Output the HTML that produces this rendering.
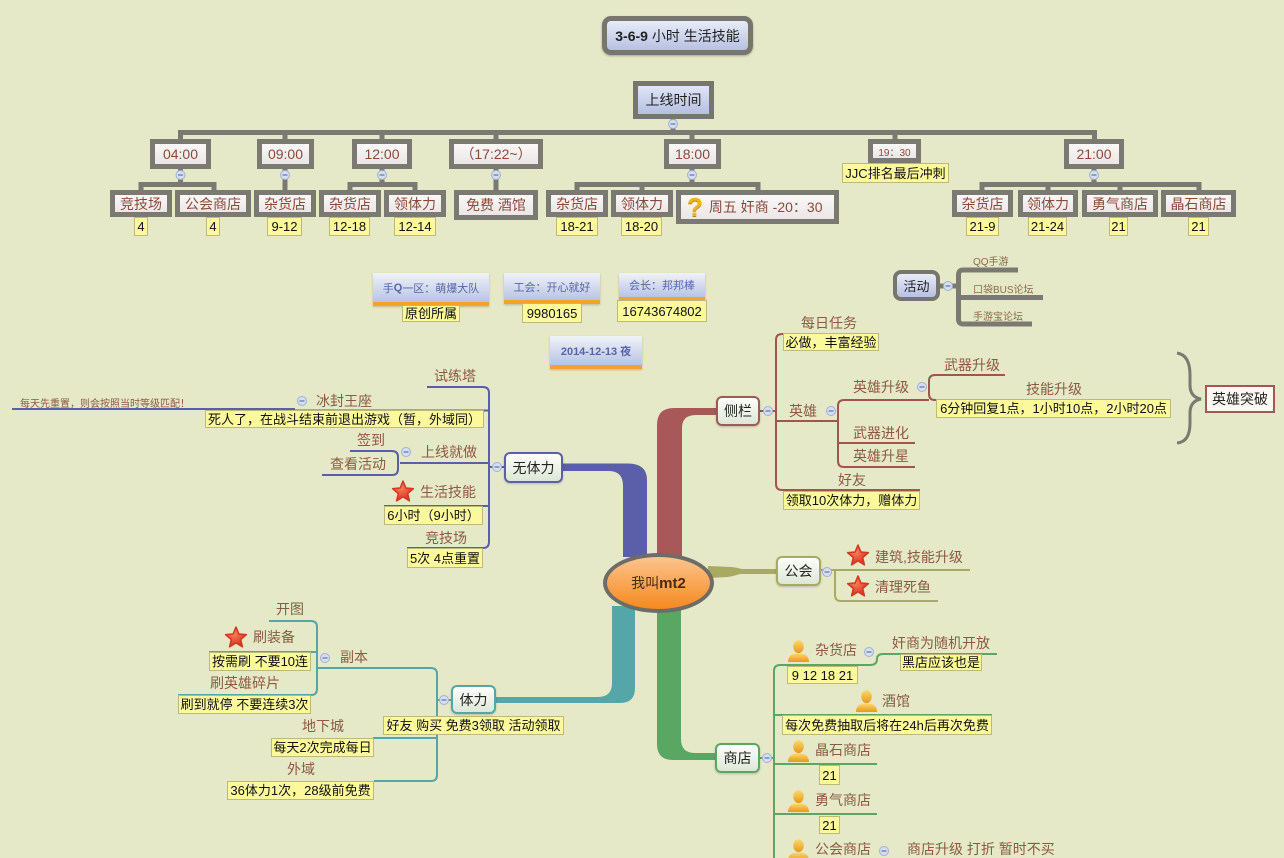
<!DOCTYPE html>
<html><head><meta charset="utf-8">
<style>
*{margin:0;padding:0;box-sizing:border-box}
body{width:1284px;height:858px;overflow:hidden;background:#e6e9c7;font-family:"Liberation Sans","Noto Sans CJK SC",sans-serif;position:relative}
.a{position:absolute;white-space:nowrap}
.t{position:absolute;white-space:nowrap;font-size:14px;line-height:16px;color:#8b5a42}
.y{position:absolute;white-space:nowrap;font-size:13px;line-height:1;color:#111;background:#fbf99b;border:1px solid #bdb97c;display:flex;align-items:center;justify-content:center}
.g{position:absolute;white-space:nowrap;border:5px solid #7a7a72;background:linear-gradient(#fbf8f8,#ece6e6);display:flex;align-items:center;justify-content:center;font-size:14px;color:#8a4a3a}
.b{position:absolute;white-space:nowrap;background:linear-gradient(#f1f3f9,#b8c3e5);border-bottom:4px solid #f0a52a;display:flex;align-items:center;justify-content:center;font-size:11px;color:#5565a8;box-shadow:0 1px 2px rgba(80,80,60,.3)}
.m{position:absolute;white-space:nowrap;border:2px solid;border-radius:6px;background:linear-gradient(#fdfefb,#dde7d6);display:flex;align-items:center;justify-content:center;font-size:14px;color:#222;box-shadow:0 1px 2px rgba(0,0,0,.2)}
</style></head><body>

<svg class="a" style="left:0;top:0" width="1284" height="858">
<defs>
<radialGradient id="sg" cx="0.4" cy="0.35" r="0.7"><stop offset="0" stop-color="#f8805a"/><stop offset="1" stop-color="#d8281a"/></radialGradient>
<linearGradient id="pg" x1="0" y1="0" x2="0" y2="1"><stop offset="0" stop-color="#fdd870"/><stop offset="1" stop-color="#e89818"/></linearGradient>
<symbol id="star" viewBox="-1.1 -1.1 2.2 2.2"><polygon points="0,-1 0.2645,-0.364 0.951,-0.309 0.428,0.139 0.588,0.809 0,0.45 -0.588,0.809 -0.428,0.139 -0.951,-0.309 -0.2645,-0.364" fill="url(#sg)" stroke="#d03a22" stroke-width="0.14" stroke-linejoin="round"/></symbol>
<symbol id="per" viewBox="0 0 24 24"><ellipse cx="12" cy="8" rx="5.5" ry="6.8" fill="url(#pg)"/><path d="M1,24 Q1,15 12,15 Q23,15 23,24 Z" fill="url(#pg)"/></symbol>
</defs>
<!-- top gray structure -->
<g stroke="#7a7a72" stroke-width="5" fill="none">
<path d="M673,118V133"/>
<path d="M178,132.5H1097"/>
<path d="M180.5,131V140M285,131V140M382,131V140M496,131V140M692,131V140M895,131V140M1094.5,131V140"/>
<path d="M180.5,168V185M141,191V184.5H214V191"/>
<path d="M285,168V191"/>
<path d="M382,168V185M350,191V184.5H415V191"/>
<path d="M496,168V191"/>
<path d="M692,168V185M577,191V184.5H758V191M642,184V191"/>
<path d="M1094,168V185M982,191V184.5H1199V191M1048,184V191M1120,184V191"/>
<path d="M940,286H958M1018,270H963Q958.5,270 958.5,275V319Q958.5,324 963,324H1032M958,297.5H1043"/>
</g>
<!-- thick branches -->
<path d="M563,463.5 L628,463.5 Q647,463.5 647,480 L647,557 L623,557 L623,486 Q623,471 609,471 L563,471 Z" fill="#5b5ea8"/>
<path d="M716,408 L674,408 Q657,408 657,425 L657,557 L682,557 L682,428 Q682,415 696,415 L716,415 Z" fill="#a85858"/>
<path d="M708,566 L732,567 Q738,568 742,569 L777,569 L777,574 L740,574 Q734,576 728,577 L708,578 Z" fill="#a9aa62"/>
<path d="M635,606 L635,688 Q635,703 620,703 L496,703 L496,697 L598,697 Q612,697 612,683 L612,606 Z" fill="#55a6a8"/>
<path d="M657,610 L657,744 Q657,760 673,760 L715,760 L715,753 L695,753 Q681,753 681,739 L681,610 Z" fill="#5aa764"/>
<!-- purple thin -->
<g stroke="#5b5ea8" stroke-width="2" fill="none">
<path d="M504,467H489"/>
<path d="M427,387H483Q489,387 489,393V542Q489,548 483,548H407"/>
<path d="M205,410.5H489"/>
<path d="M400,463H489"/>
<path d="M384,506H489"/>
<path d="M350,451H392Q398,451 398,457V469Q398,475 392,475H322"/>
<path d="M12,409H295"/>
</g>
<!-- red thin -->
<g stroke="#a0564f" stroke-width="2" fill="none">
<path d="M760,411H776"/>
<path d="M879,334H782Q776,334 776,340V484Q776,490 782,490H920"/>
<path d="M776,421H838"/>
<path d="M929,400H844Q838,400 838,406V461Q838,467 844,467H915"/>
<path d="M838,443H915"/>
<path d="M1005,375H935Q929,375 929,381V394Q929,400 935,400H1171"/>
</g>
<!-- brace -->
<path d="M1177,353 Q1190,355 1190,375 V385 Q1190,397 1201,399 Q1190,401 1190,413 V423 Q1190,442 1177,443" stroke="#7a7a72" stroke-width="3" fill="none"/>
<!-- olive thin -->
<g stroke="#a9aa62" stroke-width="2" fill="none">
<path d="M821,570H970"/>
<path d="M835,570V595Q835,601 841,601H938"/>
</g>
<!-- teal thin -->
<g stroke="#55a6a8" stroke-width="2" fill="none">
<path d="M451,700H437"/>
<path d="M317,668H431Q437,668 437,674V775Q437,781 431,781H374"/>
<path d="M373,738H437"/>
<path d="M269,621H311Q317,621 317,627V689Q317,695 311,695H178"/>
<path d="M209,652H317"/>
</g>
<!-- green thin -->
<g stroke="#5aa764" stroke-width="2" fill="none">
<path d="M760,758H774"/>
<path d="M871,665H780Q774,665 774,671V858"/>
<path d="M870,665Q877,665 877,659Q877,654 883,654H997"/>
<path d="M774,715H992"/>
<path d="M774,764H877"/>
<path d="M774,814H877"/>
</g>
</svg>

<!-- title -->
<div class="a" style="left:602px;top:16px;width:151px;height:39px;border:5px solid #76766f;border-radius:9px;background:linear-gradient(#e8ecf8,#b7c1e2);display:flex;align-items:center;justify-content:center;font-size:14px;color:#222;box-shadow:0 1px 2px rgba(0,0,0,.3)"><b>3-6-9</b>&nbsp;小时 生活技能</div>
<div class="a" style="left:633px;top:81px;width:81px;height:38px;border:5px solid #76766f;background:linear-gradient(#e0e6f6,#b5bfe0);display:flex;align-items:center;justify-content:center;font-size:14px;color:#222">上线时间</div>

<!-- time nodes -->
<div class="g" style="left:150px;top:139px;width:61px;height:30px">04:00</div>
<div class="g" style="left:257px;top:139px;width:57px;height:30px">09:00</div>
<div class="g" style="left:352px;top:139px;width:60px;height:30px">12:00</div>
<div class="g" style="left:449px;top:139px;width:94px;height:30px">（17:22~）</div>
<div class="g" style="left:664px;top:139px;width:57px;height:30px">18:00</div>
<div class="g" style="left:868px;top:139px;width:53px;height:24px;font-size:10px">19：30</div>
<div class="g" style="left:1064px;top:139px;width:60px;height:30px">21:00</div>

<!-- children -->
<div class="g" style="left:110px;top:190px;width:62px;height:27px">竞技场</div>
<div class="g" style="left:175px;top:190px;width:76px;height:27px">公会商店</div>
<div class="g" style="left:254px;top:190px;width:62px;height:27px">杂货店</div>
<div class="g" style="left:319px;top:190px;width:62px;height:27px">杂货店</div>
<div class="g" style="left:384px;top:190px;width:62px;height:27px">领体力</div>
<div class="g" style="left:454px;top:190px;width:84px;height:30px">免费 酒馆</div>
<div class="g" style="left:546px;top:190px;width:62px;height:27px">杂货店</div>
<div class="g" style="left:611px;top:190px;width:62px;height:27px">领体力</div>
<div class="g" style="left:676px;top:190px;width:163px;height:34px;justify-content:flex-start;padding-left:6px"><span style="font-size:26px;font-weight:bold;color:#efb51e;line-height:1;margin-right:6px;text-shadow:0 1px 0 #b88010">?</span>周五 奸商 -20：30</div>
<div class="g" style="left:952px;top:190px;width:61px;height:27px">杂货店</div>
<div class="g" style="left:1018px;top:190px;width:60px;height:27px">领体力</div>
<div class="g" style="left:1082px;top:190px;width:76px;height:27px">勇气商店</div>
<div class="g" style="left:1161px;top:190px;width:75px;height:27px">晶石商店</div>

<!-- top yellow labels -->
<div class="y" style="left:134px;top:217px;width:14px;height:19px">4</div>
<div class="y" style="left:206px;top:217px;width:14px;height:19px">4</div>
<div class="y" style="left:267px;top:217px;width:35px;height:19px">9-12</div>
<div class="y" style="left:329px;top:217px;width:41px;height:19px">12-18</div>
<div class="y" style="left:394px;top:217px;width:42px;height:19px">12-14</div>
<div class="y" style="left:556px;top:217px;width:42px;height:19px">18-21</div>
<div class="y" style="left:621px;top:217px;width:41px;height:19px">18-20</div>
<div class="y" style="left:966px;top:217px;width:33px;height:19px">21-9</div>
<div class="y" style="left:1028px;top:217px;width:39px;height:19px">21-24</div>
<div class="y" style="left:1109px;top:217px;width:19px;height:19px">21</div>
<div class="y" style="left:1188px;top:217px;width:21px;height:19px">21</div>
<div class="y" style="left:842px;top:163px;width:107px;height:20px">JJC排名最后冲刺</div>

<!-- info boxes -->
<div class="b" style="left:373px;top:273px;width:116px;height:33px">手<b>Q</b>一区：萌爆大队</div>
<div class="y" style="left:402px;top:305px;width:58px;height:17px">原创所属</div>
<div class="b" style="left:504px;top:273px;width:96px;height:31px">工会：开心就好</div>
<div class="y" style="left:522px;top:303px;width:60px;height:20px">9980165</div>
<div class="b" style="left:619px;top:273px;width:86px;height:28px">会长：邦邦棒</div>
<div class="y" style="left:617px;top:300px;width:90px;height:22px">16743674802</div>
<div class="b" style="left:550px;top:336px;width:92px;height:33px;font-weight:bold">2014-12-13 夜</div>

<!-- activity -->
<div class="a" style="left:893px;top:270px;width:47px;height:31px;border:4px solid #76766f;border-radius:8px;background:linear-gradient(#e8ecf8,#b7c1e2);display:flex;align-items:center;justify-content:center;font-size:13px;color:#222">活动</div>
<div class="a" style="left:973px;top:253px;font-size:10px;color:#8b6a4a">QQ手游</div>
<div class="a" style="left:973px;top:281px;font-size:10px;color:#8b6a4a">口袋BUS论坛</div>
<div class="a" style="left:973px;top:308px;font-size:10px;color:#8b6a4a">手游宝论坛</div>

<!-- main nodes -->
<div class="m" style="left:504px;top:452px;width:59px;height:31px;border-color:#5b5ea8">无体力</div>
<div class="m" style="left:716px;top:396px;width:44px;height:30px;border-color:#a05a55">侧栏</div>
<div class="m" style="left:776px;top:556px;width:45px;height:30px;border-color:#a9aa62">公会</div>
<div class="m" style="left:451px;top:685px;width:45px;height:29px;border-color:#55a6a8">体力</div>
<div class="m" style="left:715px;top:743px;width:45px;height:30px;border-color:#5aa764">商店</div>
<div class="a" style="left:1205px;top:385px;width:70px;height:28px;border:2px solid #a05a55;background:#fbf9f3;display:flex;align-items:center;justify-content:center;font-size:14px;color:#222">英雄突破</div>

<!-- center -->
<div class="a" style="left:603px;top:553px;width:111px;height:60px;border-radius:50%;border:4px solid #6e6c66;background:linear-gradient(#fcc48e,#f6891e);display:flex;align-items:center;justify-content:center;font-size:14px;color:#4a2a10">我叫<b style="font-size:15px">mt2</b></div>

<!-- left topics -->
<div class="t" style="left:434px;top:368px">试练塔</div>
<div class="t" style="left:316px;top:393px">冰封王座</div>
<div class="a" style="left:20px;top:395px;font-size:10px;color:#8b5a42">每天先重置，则会按照当时等级匹配！</div>
<div class="t" style="left:357px;top:432px">签到</div>
<div class="t" style="left:421px;top:444px">上线就做</div>
<div class="t" style="left:330px;top:456px">查看活动</div>
<div class="t" style="left:420px;top:484px">生活技能</div>
<div class="t" style="left:425px;top:530px">竞技场</div>
<div class="y" style="left:205px;top:410px;width:279px;height:18px">死人了，在战斗结束前退出游戏（暂，外域同）</div>
<div class="y" style="left:384px;top:506px;width:99px;height:19px">6小时（9小时）</div>
<div class="y" style="left:407px;top:548px;width:76px;height:20px">5次 4点重置</div>

<!-- right topics -->
<div class="t" style="left:801px;top:315px">每日任务</div>
<div class="t" style="left:789px;top:403px">英雄</div>
<div class="t" style="left:853px;top:379px">英雄升级</div>
<div class="t" style="left:944px;top:357px">武器升级</div>
<div class="t" style="left:1026px;top:381px">技能升级</div>
<div class="t" style="left:853px;top:425px">武器进化</div>
<div class="t" style="left:853px;top:448px">英雄升星</div>
<div class="t" style="left:838px;top:472px">好友</div>
<div class="y" style="left:783px;top:333px;width:96px;height:18px">必做，丰富经验</div>
<div class="y" style="left:936px;top:399px;width:235px;height:19px">6分钟回复1点，1小时10点，2小时20点</div>
<div class="y" style="left:783px;top:491px;width:137px;height:19px">领取10次体力，赠体力</div>

<!-- guild -->
<div class="t" style="left:875px;top:549px">建筑,技能升级</div>
<div class="t" style="left:875px;top:579px">清理死鱼</div>

<!-- stamina -->
<div class="t" style="left:276px;top:601px">开图</div>
<div class="t" style="left:253px;top:629px">刷装备</div>
<div class="t" style="left:340px;top:649px">副本</div>
<div class="t" style="left:210px;top:675px">刷英雄碎片</div>
<div class="t" style="left:302px;top:718px">地下城</div>
<div class="t" style="left:287px;top:761px">外域</div>
<div class="y" style="left:209px;top:652px;width:102px;height:19px">按需刷 不要10连</div>
<div class="y" style="left:178px;top:695px;width:133px;height:19px">刷到就停 不要连续3次</div>
<div class="y" style="left:383px;top:716px;width:181px;height:19px">好友 购买 免费3领取 活动领取</div>
<div class="y" style="left:271px;top:738px;width:103px;height:19px">每天2次完成每日</div>
<div class="y" style="left:227px;top:781px;width:147px;height:19px">36体力1次，28级前免费</div>

<!-- shop -->
<div class="t" style="left:815px;top:642px">杂货店</div>
<div class="t" style="left:892px;top:635px">奸商为随机开放</div>
<div class="t" style="left:882px;top:693px">酒馆</div>
<div class="t" style="left:815px;top:742px">晶石商店</div>
<div class="t" style="left:815px;top:792px">勇气商店</div>
<div class="t" style="left:815px;top:841px">公会商店</div>
<div class="t" style="left:907px;top:841px">商店升级 打折 暂时不买</div>
<div class="y" style="left:787px;top:666px;width:71px;height:18px">9 12 18 21</div>
<div class="y" style="left:900px;top:654px;width:82px;height:17px">黑店应该也是</div>
<div class="y" style="left:782px;top:715px;width:210px;height:20px">每次免费抽取后将在24h后再次免费</div>
<div class="y" style="left:819px;top:765px;width:21px;height:20px">21</div>
<div class="y" style="left:819px;top:816px;width:21px;height:18px">21</div>

<!-- icons & collapse circles overlay -->
<svg class="a" style="left:0;top:0" width="1284" height="858">
<use href="#star" x="391" y="480" width="24" height="24"/>
<use href="#star" x="224" y="626" width="24" height="24"/>
<use href="#star" x="846" y="544" width="24" height="24"/>
<use href="#star" x="846" y="575" width="24" height="24"/>
<use href="#per" x="787" y="639" width="23" height="23"/>
<use href="#per" x="855" y="689" width="23" height="23"/>
<use href="#per" x="787" y="739" width="23" height="23"/>
<use href="#per" x="787" y="789" width="23" height="23"/>
<use href="#per" x="787" y="838" width="23" height="23"/>
<g fill="#d6def2" stroke="#9fb0d8" stroke-width="1">
<circle cx="673" cy="124" r="4.5"/><circle cx="180.5" cy="175" r="4.5"/><circle cx="285" cy="175" r="4.5"/><circle cx="382" cy="175" r="4.5"/><circle cx="496" cy="175" r="4.5"/><circle cx="692" cy="175" r="4.5"/><circle cx="1094" cy="175" r="4.5"/>
<circle cx="948" cy="286" r="4.5"/>
<circle cx="497" cy="467" r="4.5"/><circle cx="406" cy="452" r="4.5"/><circle cx="302" cy="401" r="4.5"/>
<circle cx="768" cy="411" r="4.5"/><circle cx="831" cy="411" r="4.5"/><circle cx="922" cy="387" r="4.5"/>
<circle cx="827" cy="572" r="4.5"/>
<circle cx="444" cy="700" r="4.5"/><circle cx="325" cy="658" r="4.5"/>
<circle cx="767" cy="758" r="4.5"/><circle cx="869" cy="652" r="4.5"/><circle cx="884" cy="851" r="4.5"/>
</g>
<g stroke="#6678a8" stroke-width="1.2">
<path d="M670.5,124h5M178,175h5M282.5,175h5M379.5,175h5M493.5,175h5M689.5,175h5M1091.5,175h5M945.5,286h5M494.5,467h5M403.5,452h5M299.5,401h5M765.5,411h5M828.5,411h5M919.5,387h5M824.5,572h5M441.5,700h5M322.5,658h5M764.5,758h5M866.5,652h5M881.5,851h5"/>
</g>
</svg>
</body></html>
